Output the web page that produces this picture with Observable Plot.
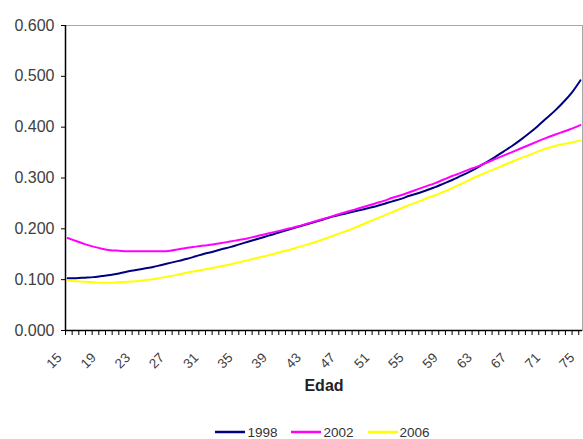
<!DOCTYPE html>
<html>
<head>
<meta charset="utf-8">
<script src="https://cdn.jsdelivr.net/npm/d3@7"></script>
<script src="https://cdn.jsdelivr.net/npm/@observablehq/plot@0.6"></script>
<style>
  html, body { margin: 0; padding: 0; background: #fff; }
  #wrap { width: 583px; font-family: "Liberation Sans", Arial, sans-serif; }
  #legend { display: flex; justify-content: center; align-items: center; gap: 14px;
            padding-left: 62px; padding-top: 14px; box-sizing: border-box; width: 583px; height: 40px;
            font-size: 13.5px; color: #333; }
  #legend .item { display: flex; align-items: center; }
  #legend svg { margin-right: 2px; }
</style>
</head>
<body>
<div id="wrap"></div>
<script>
// Ages (x categories)
const ages = d3.range(15, 76);

// Series values by age, 15..75
const s1998 = [0.103,0.103,0.104,0.105,0.107,0.109,0.112,0.116,0.119,0.122,
               0.125,0.129,0.133,0.137,0.141,0.146,0.151,0.155,0.160,0.164,
               0.169,0.174,0.179,0.184,0.189,0.194,0.199,0.204,0.209,0.214,
               0.219,0.224,0.228,0.232,0.236,0.240,0.244,0.249,0.254,0.259,
               0.265,0.270,0.276,0.282,0.289,0.296,0.304,0.312,0.321,0.331,
               0.341,0.352,0.363,0.375,0.388,0.402,0.417,0.432,0.449,0.468,0.492];
const s2002 = [0.182,0.176,0.170,0.165,0.161,0.158,0.157,0.156,0.156,0.156,
               0.156,0.156,0.157,0.160,0.163,0.165,0.167,0.169,0.172,0.175,
               0.178,0.181,0.185,0.189,0.193,0.197,0.201,0.205,0.210,0.215,
               0.220,0.225,0.230,0.235,0.240,0.245,0.250,0.255,0.261,0.266,
               0.272,0.278,0.284,0.290,0.297,0.304,0.310,0.317,0.323,0.330,
               0.337,0.344,0.351,0.358,0.365,0.372,0.379,0.385,0.391,0.397,0.404];
const s2006 = [0.098,0.097,0.096,0.095,0.094,0.094,0.095,0.096,0.097,0.099,
               0.101,0.104,0.107,0.110,0.114,0.117,0.120,0.123,0.127,0.130,
               0.134,0.138,0.142,0.146,0.150,0.155,0.159,0.164,0.169,0.174,
               0.180,0.186,0.192,0.198,0.205,0.212,0.219,0.226,0.233,0.240,
               0.247,0.253,0.260,0.266,0.273,0.280,0.288,0.296,0.304,0.311,
               0.318,0.325,0.332,0.339,0.345,0.352,0.358,0.363,0.367,0.370,0.374];

const seriesNames = ["1998", "2002", "2006"];
const seriesColors = ["#000080", "#ff00ff", "#ffff00"];
const seriesValues = [s1998, s2002, s2006];

// Axis labels
const xLabelTicks = d3.range(15, 76, 4);
const yTicks = [0, 0.1, 0.2, 0.3, 0.4, 0.5, 0.6];
const xTitle = "Edad";

// Long-format table for the line mark
const rows = seriesNames.flatMap((name, i) =>
  ages.map((age, j) => ({ serie: name, edad: age, valor: seriesValues[i][j] })));

const xDomain = [14.75, 75.25];
const minorTicks = d3.range(xDomain[0], xDomain[1] + 0.01, 0.78);
const font = "Liberation Sans, Arial, sans-serif";

const chart = Plot.plot({
  width: 583,
  height: 405,
  marginLeft: 65,
  marginRight: 1,
  marginTop: 25,
  marginBottom: 75,
  style: { fontFamily: font, fontSize: "13px", color: "#404040", background: "#fff" },
  x: { domain: xDomain, label: null },
  y: { domain: [0, 0.6], label: null },
  color: { domain: seriesNames, range: seriesColors },
  marks: [
    Plot.frame({ stroke: "#a8a8a8", strokeWidth: 1 }),
    Plot.axisY({ ticks: yTicks, tickFormat: d3.format(".3f"), tickSize: 4, tickPadding: 7,
                 stroke: "#000", fontSize: 16 }),
    Plot.axisX({ ticks: minorTicks, tickSize: 5, tickFormat: () => "", stroke: "#000" }),
    // rotated category labels, every fourth age
    Plot.text(xLabelTicks, { x: d => d, frameAnchor: "bottom", rotate: -45, textAnchor: "end",
                             dx: -5, dy: 28, fontSize: 13.5, fill: "#404040" }),
    Plot.ruleX([xDomain[0]], { stroke: "#000", strokeWidth: 1.5 }),
    Plot.ruleY([0], { stroke: "#000", strokeWidth: 1.5 }),
    Plot.line(rows, { x: "edad", y: "valor", stroke: "serie", strokeWidth: 2,
                      curve: "monotone-x" }),
    Plot.text([xTitle], { frameAnchor: "bottom", dy: 60, fontWeight: "bold",
                          fontSize: 16, fill: "#222" })
  ]
});

const wrap = document.getElementById("wrap");
wrap.appendChild(chart);

// Legend below the chart
const legend = document.createElement("div");
legend.id = "legend";
seriesNames.forEach((name, i) => {
  const item = document.createElement("div");
  item.className = "item";
  item.innerHTML = `<svg width="30" height="6"><line x1="0" x2="30" y1="3" y2="3" stroke="${seriesColors[i]}" stroke-width="2.5"/></svg><span>${name}</span>`;
  legend.appendChild(item);
});
wrap.appendChild(legend);
</script>
</body>
</html>
